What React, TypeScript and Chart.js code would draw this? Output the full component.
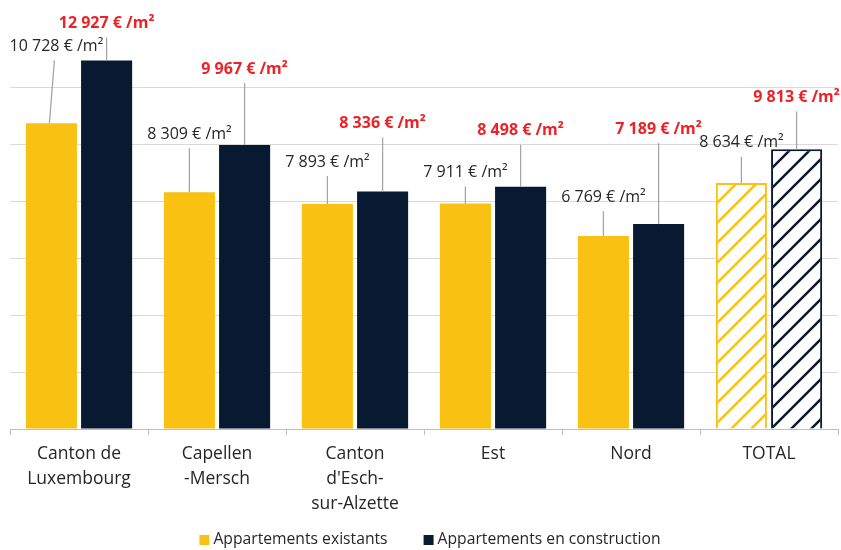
import React, { useEffect, useRef } from "react";
import { Chart, registerables } from "chart.js";

Chart.register(...registerables);

const categories: (string | string[])[] = [
  ["Canton de", "Luxembourg"],
  ["Capellen", "-Mersch"],
  ["Canton", "d'Esch-", "sur-Alzette"],
  "Est",
  "Nord",
  "TOTAL",
];
const seriesNames = ["Appartements existants", "Appartements en construction"];
const existants = [10728, 8309, 7893, 7911, 6769, 8634];
const construction = [12927, 9967, 8336, 8498, 7189, 9813];
const yTicksStep = 2000;
const yMax = 14000;

// label layout (pixels above bar top), kept separate from data
const riseExist = [77, 58, 42, 31, 39, 40];
const riseConstr = [37, 76, 68, 56, 95, 52];
const dxExist = [5, 0, 0, 0, 0, 0];

const YELLOW = "#F9C213";
const NAVY = "#071A31";
const RED = "#EC2227";
const FONT = "'Open Sans', sans-serif";

function fmt(n: number) {
  const th = Math.floor(n / 1000);
  const rest = String(n % 1000).padStart(3, "0");
  return `${th} ${rest} € /m²`;
}

function makePattern(color: string) {
  const size = 20;
  const c = document.createElement("canvas");
  c.width = size;
  c.height = size;
  const g = c.getContext("2d")!;
  g.fillStyle = "#ffffff";
  g.fillRect(0, 0, size, size);
  g.strokeStyle = color;
  g.lineWidth = 2.5;
  g.beginPath();
  g.moveTo(-2, size + 2);
  g.lineTo(size + 2, -2);
  g.moveTo(-2, 2);
  g.lineTo(2, -2);
  g.moveTo(size - 2, size + 2);
  g.lineTo(size + 2, size - 2);
  g.stroke();
  const ctx = document.createElement("canvas").getContext("2d")!;
  return ctx.createPattern(c, "repeat")!;
}

export default function App() {
  const ref = useRef<HTMLCanvasElement>(null);
  useEffect(() => {
    document.body.style.margin = "0";
    const n = categories.length;
    const yPat = makePattern(YELLOW);
    const nPat = makePattern(NAVY);
    const bg1 = existants.map((_, i) => (i === n - 1 ? yPat : YELLOW));
    const bg2 = construction.map((_, i) => (i === n - 1 ? nPat : NAVY));
    const bw = existants.map((_, i) => (i === n - 1 ? 2 : 0));

    const labelsPlugin = {
      id: "leaderLabels",
      afterDatasetsDraw(chart: any) {
        const ctx = chart.ctx;
        ctx.save();
        [0, 1].forEach((di) => {
          const meta = chart.getDatasetMeta(di);
          const vals = di === 0 ? existants : construction;
          const rise = di === 0 ? riseExist : riseConstr;
          meta.data.forEach((bar: any, i: number) => {
            const dx = di === 0 ? dxExist[i] : 0;
            const top = bar.y;
            const ly = top - rise[i];
            ctx.strokeStyle = "#a6a6a6";
            ctx.lineWidth = 1.3;
            ctx.beginPath();
            ctx.moveTo(bar.x + dx - 2 * Math.sign(dx), ly + 14);
            ctx.lineTo(bar.x - (dx ? 2 : 0), top);
            ctx.stroke();
            ctx.font = di === 0 ? `400 16px ${FONT}` : `700 16px ${FONT}`;
            ctx.fillStyle = di === 0 ? "#262626" : RED;
            ctx.textAlign = "center";
            ctx.textBaseline = "middle";
            ctx.fillText(fmt(vals[i]), bar.x + dx, ly);
          });
        });
        ctx.restore();
      },
      afterDraw(chart: any) {
        const ctx = chart.ctx;
        ctx.save();
        ctx.font = `400 15.7px ${FONT}`;
        const box = 10;
        const gapText = 4;
        const gapItem = 36;
        const w0 = ctx.measureText(seriesNames[0]).width;
        const w1 = ctx.measureText(seriesNames[1]).width;
        const total = box + gapText + w0 + gapItem + box + gapText + w1;
        let x = 430 - total / 2;
        const y = 540;
        ctx.textBaseline = "middle";
        ctx.textAlign = "left";
        ctx.fillStyle = YELLOW;
        ctx.fillRect(x, y - box / 2, box, box);
        ctx.fillStyle = "#262626";
        ctx.fillText(seriesNames[0], x + box + gapText, y);
        x += box + gapText + w0 + gapItem;
        ctx.fillStyle = NAVY;
        ctx.fillRect(x, y - box / 2, box, box);
        ctx.fillStyle = "#262626";
        ctx.fillText(seriesNames[1], x + box + gapText, y);
        ctx.restore();
      },
    };

    const chart = new Chart(ref.current!, {
      type: "bar",
      data: {
        labels: categories as any,
        datasets: [
          {
            label: seriesNames[0],
            data: existants,
            backgroundColor: bg1 as any,
            borderColor: YELLOW,
            borderWidth: bw as any,
            categoryPercentage: 0.8,
            barPercentage: 0.925,
          },
          {
            label: seriesNames[1],
            data: construction,
            backgroundColor: bg2 as any,
            borderColor: NAVY,
            borderWidth: bw as any,
            categoryPercentage: 0.8,
            barPercentage: 0.925,
          },
        ],
      },
      options: {
        animation: false,
        responsive: false,
        maintainAspectRatio: false,
        layout: { padding: { left: 10, right: 3, top: 30, bottom: 0 } },
        plugins: { legend: { display: false }, tooltip: { enabled: false } },
        scales: {
          x: {
            grid: {
              display: true,
              drawOnChartArea: false,
              offset: true,
              tickLength: 6,
              color: "#bfbfbf",
            },
            border: { display: true, color: "#bfbfbf", width: 1 },
            ticks: {
              color: "#262626",
              font: { family: FONT, size: 17.5, lineHeight: 1.42 },
              padding: 7,
              maxRotation: 0,
              autoSkip: false,
            },
            afterFit: (s: any) => {
              s.height = 121;
            },
          },
          y: {
            min: 0,
            max: yMax,
            ticks: { display: false, stepSize: yTicksStep },
            border: { display: false },
            grid: {
              drawTicks: false,
              color: (c: any) =>
                c.tick && (c.tick.value === 0 || c.tick.value === yMax) ? "rgba(0,0,0,0)" : "#d9d9d9",
              lineWidth: 1,
            },
            afterFit: (s: any) => {
              s.width = 0;
            },
          },
        },
      },
      plugins: [labelsPlugin],
    });
    return () => chart.destroy();
  }, []);
  return (
    <div style={{ position: "fixed", left: 0, top: 0, width: 841, height: 550, background: "#fff" }}>
      <canvas ref={ref} width={841} height={550} style={{ width: 841, height: 550 }} />
    </div>
  );
}
